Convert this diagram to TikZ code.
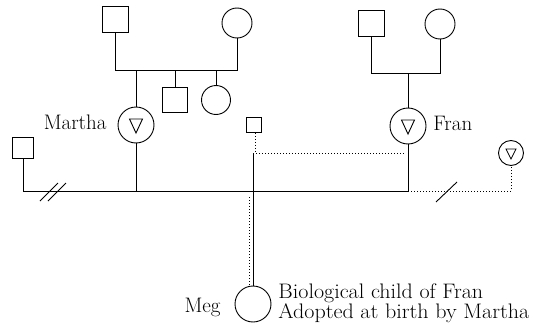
\documentclass[tikz,border=0pt]{standalone}
\usepackage{fontspec}
\usetikzlibrary{calc}
\begin{document}
\begin{tikzpicture}[x=1pt,y=-1pt,line width=0.9pt,
  male/.style={draw,rectangle,inner sep=0pt,minimum size=#1},
  female/.style={draw,circle,inner sep=0pt,minimum size=#1},
  bio/.style={dotted,line width=1pt},
  lbl/.style={inner sep=0pt,font=\fontsize{21}{23}\selectfont\addfontfeatures{FakeBold=0.8}}]
\useasboundingbox (0,0) rectangle (536,332);

% generation levels
\coordinate (mlev) at (0,70);
\coordinate (flev) at (0,73);
\coordinate (biolev) at (0,153);
\coordinate (mainlev) at (0,191);
\coordinate (bioend) at (404,153);

% Martha's family
\node[male=26pt] (mgf) at (115,19) {};
\node[female=30pt] (mgm) at (237,23) {};
\node[female=36pt] (martha) at (136,125) {};
\node[male=25pt] (mbro) at (175,100) {};
\node[female=29pt] (msis) at (216,100) {};
\node[male=21pt] (mpartner) at (23,148) {};

% Fran's family
\node[male=26pt] (fgf) at (371,23) {};
\node[female=30pt] (fgm) at (440,24) {};
\node[female=36pt] (fran) at (408,126) {};
\node[female=25pt] (fpartner) at (511,153) {};

% biological father and child
\node[male=15pt] (biof) at (254,125) {};
\node[female=36pt] (meg) at (253,304) {};

% triangles inside the gender-unspecified circles
\draw[shift={(martha.center)}] (-6.5,-6) -- (6.5,-6) -- (0,8) -- cycle;
\draw[shift={(fran.center)}] (-6.5,-6) -- (6.5,-6) -- (0,8) -- cycle;
\draw[shift={(fpartner.center)},line width=0.8pt] (-5,-4) -- (5,-4) -- (0,6) -- cycle;

% Martha's parents and siblings
\draw (mgf.south) |- (mgm.south |- mlev) -- (mgm.south);
\draw (martha.north) -- (martha.north |- mlev);
\draw (mbro.north) -- (mbro.north |- mlev);
\draw (msis.north) -- (msis.north |- mlev);

% Fran's parents
\draw (fgf.south) |- (fgm.south |- flev) -- (fgm.south);
\draw (fran.north) -- (fran.north |- flev);

% main partnership line
\draw (mpartner.south) |- (fran.south |- mainlev) -- (fran.south);
\draw (martha.south) -- (martha.south |- mainlev);
\draw (40,201) -- (58,183);
\draw (48,201) -- (66,183);

% Fran's other partner
\draw[bio] (fran.south |- mainlev) -| (fpartner.south);
\draw (436,202) -- (457,182);

% biological link and adoption line
\draw[bio] ($(biof.south)+(1,0)$) -- ($(biof.south |- biolev)+(1,0)$);
\draw[bio] (meg.north |- biolev) -- (bioend);
\draw (meg.north |- biolev) -- (meg.north);
\draw[bio] ($(meg.north |- mainlev)+(-4,6)$) -- ($(meg.north)+(-4,1)$);

% labels
\node[lbl,anchor=base east] (lmartha) at (107,129) {Martha};
\node[lbl,anchor=base west] (lfran) at (433,130) {Fran};
\node[lbl,anchor=base east] (lmeg) at (221,312) {Meg};
\node[lbl,anchor=base west] (lbio) at (278,298) {\scalebox{1.05}[1]{Biological child of Fran}};
\node[lbl,anchor=base west] (ladopt) at (278,318) {\scalebox{1.05}[1]{Adopted at birth by Martha}};
\end{tikzpicture}
\end{document}
